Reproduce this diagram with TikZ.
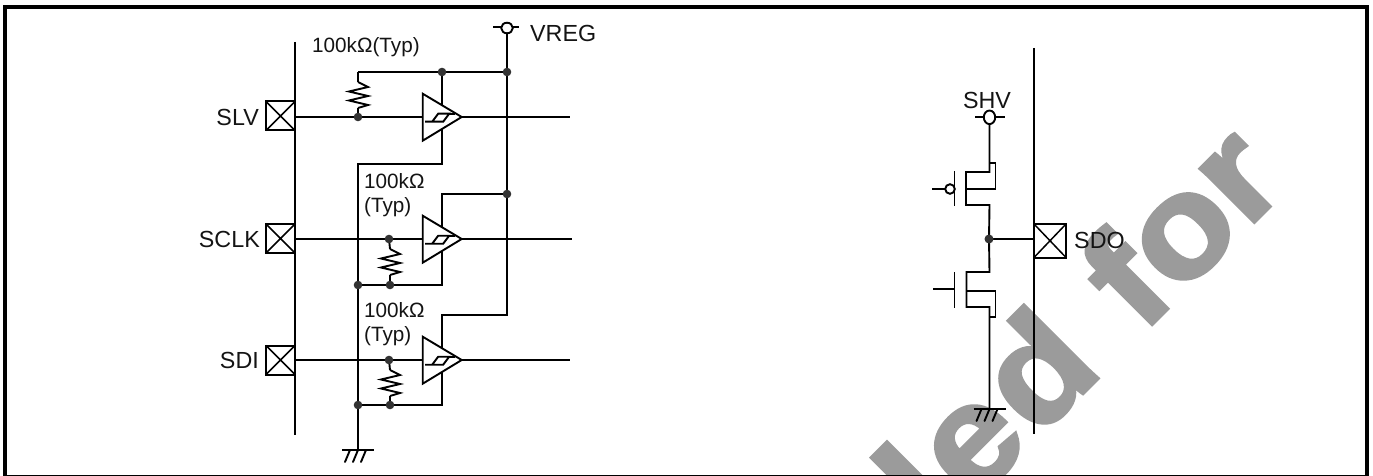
\documentclass[tikz,border=0pt]{standalone}
\usepackage{fontspec}
\setmainfont{Liberation Sans}
\newfontfamily\wmfont{Liberation Sans Bold}[FakeBold=2.7,FakeStretch=1.1]
\usetikzlibrary{calc}
\definecolor{wmgray}{HTML}{9B9B9B}
\definecolor{dotgray}{HTML}{333333}
\tikzset{
  wire/.style={draw=black,line width=1.9pt},
  lbl/.style={inner sep=0pt,font=\fontsize{23.3}{25}\selectfont,text=black!92},
  rlbl/.style={inner sep=0pt,font=\fontsize{20.7}{23}\selectfont,text=black!92},
  jdot/.style={fill=dotgray,draw=none},
  pics/comparator/.style={code={
    \draw[wire,fill=white,line join=miter] (-19.5,-23.3) -- (19.5,0) -- (-19.5,23.7) -- cycle;
    \draw[wire] (-17,4.7) -- (1,4.7) -- (7,-3.3) -- (-4,-3.3) -- (-10,4.7);
    \draw[wire] (7,-3.3) -- (13,-3.3);
  }},
  pics/padbox/.style={code={
    \draw[wire,line width=2pt] (-14.5,-14.5) rectangle (14.5,14.5);
    \draw[wire,line width=1.5pt] (-14.5,-14.5) -- (14.5,14.5) (-14.5,14.5) -- (14.5,-14.5);
  }},
  pics/zigzag/.style={code={
    \draw[wire,line join=miter] (0,0) -- (10,5) -- (-9,9.5) -- (10,14) -- (-9,18.5) -- (10,23) -- (0,26);
  }},
  pics/earth/.style={code={
    \draw[wire] (-16,0) -- (16,0);
    \draw[wire,line cap=round] (-8,0) -- (-13,12) (0,0) -- (-5,12) (8,0) -- (3,12);
  }},
}
\begin{document}
\begin{tikzpicture}[x=1pt,y=-1pt]
\useasboundingbox (0,0) rectangle (1373,476);
\fill[white] (0,0) rectangle (1373,476);
% watermark
\begin{scope}
\clip (0,0) rectangle (1373,476);
\node[anchor=base east,rotate=45,inner sep=0pt,text=wmgray,font=\wmfont\fontsize{143}{143}\selectfont] (wm) at (1290,186) {l\kern5pt e\kern5pt d\kern8pt\ for};
\end{scope}
\draw[line width=4pt,black] (5,7) rectangle (1367,477);

% ---------- left block ----------
\coordinate (busTL) at (295,42);
\coordinate (busBL) at (295,435);
\draw[wire] (busTL) -- (busBL);

\coordinate (slvY) at (295,117);
\coordinate (sclkY) at (295,239);
\coordinate (sdiY) at (295,360);
\coordinate (outA) at (570,117);
\coordinate (outB) at (572,239);
\coordinate (outC) at (570,360);
\draw[wire] (slvY) -- (outA);
\draw[wire] (sclkY) -- (outB);
\draw[wire] (sdiY) -- (outC);

% VREG rail
\coordinate (vreg) at (507,28);
\coordinate (vregL) at (493,27);
\coordinate (vregR) at (519,27);
\coordinate (railEnd) at (507,315);
\coordinate (cmpVc) at (442,315);
\coordinate (cmpVb) at (442,194);
\coordinate (rail2) at (507,194);
\coordinate (rail1) at (507,72);
\coordinate (cmpVa) at (442,72);
\coordinate (rTopA) at (358,72);
\coordinate (rMidA) at (358,117);
\draw[wire] (vregL) -- (vregR);
\draw[wire] (vreg) -- (rail1) -- (railEnd) -- (cmpVc) -- (442,405) -- (358,405);
\draw[wire] (rail2) -- (cmpVb) -- (442,285) -- (358,285);
\draw[wire] (rMidA) -- (358,108) (rTopA) -- (358,82);
\draw[wire] (rail1) -- (rTopA);
\draw[wire] (cmpVa) -- (442,164) -- (358,164) -- (358,450);
\draw[wire,fill=white] (vreg) ellipse [x radius=5.8pt,y radius=5.3pt];

% resistors
\coordinate (r2T) at (389,239);
\coordinate (r2B) at (390,285);
\coordinate (r3T) at (389,360);
\coordinate (r3B) at (390,405);
\draw[wire] (r2T) -- (390,249) (390,275) -- (r2B);
\draw[wire] (r3T) -- (390,370) (390,396) -- (r3B);
\pic at (358,82) {zigzag};
\pic at (390,249) {zigzag};
\pic at (390,370) {zigzag};

% comparators
\pic at (442.2,117) {comparator};
\pic at (442.2,239) {comparator};
\pic at (442.2,360) {comparator};

% ground left
\coordinate (gndL) at (358,450);
\pic at (gndL) {earth};

% pads left
\pic at (280.5,116) {padbox};
\pic at (280.5,238.5) {padbox};
\pic at (280.5,360) {padbox};

% junctions
\foreach \p in {rail1,cmpVa,rMidA,rail2,r2T,r2B,r3T,r3B}
  \fill[jdot] (\p) circle[radius=4.3pt];
\fill[jdot] (358,285) circle[radius=4.3pt];
\fill[jdot] (358,405) circle[radius=4.3pt];

% labels left
\node[lbl,anchor=base east] (tSLV) at (259,125) {SLV};
\node[lbl,anchor=base east] (tSCLK) at (260,247) {SCLK};
\node[lbl,anchor=base east] (tSDI) at (259,368) {SDI};
\node[lbl,anchor=base west] (tVREG) at (530,41.5) {VREG};
\node[rlbl,anchor=base west] (tRa) at (312,53) {100kΩ(Typ)};
\node[rlbl,anchor=base west] (tRb) at (364,188) {100kΩ};
\node[rlbl,anchor=base west] (tRbb) at (364,212) {(Typ)};
\node[rlbl,anchor=base west] (tRc) at (364,317) {100kΩ};
\node[rlbl,anchor=base west] (tRcc) at (364,341.5) {(Typ)};

% ---------- right block ----------
\coordinate (busTR) at (1034,48);
\coordinate (busBR) at (1034,434);
\draw[wire] (busTR) -- (busBR);

\coordinate (shv) at (989.5,117.3);
\coordinate (shvL) at (975,117);
\coordinate (shvR) at (1005,117);
\coordinate (outNode) at (989,239);
\coordinate (padW) at (1034,239);
\coordinate (gndR) at (989.5,409);
\draw[wire] (shvL) -- (shvR);
\draw[wire] (shv) -- (989.5,172) -- (966,172) -- (966,205) -- (989.5,205) -- (outNode);
\draw[wire] (989.5,163) -- (995.5,163) -- (995.5,189) -- (966,189);
\draw[wire] (954.5,171) -- (954.5,206);
\draw[wire] (932,189) -- (945,189);
\draw[wire] (950,189) circle[radius=4.8pt];
\draw[wire,fill=white] (shv) ellipse [x radius=5.7pt,y radius=6.8pt];
\draw[wire] (outNode) -- (989.5,272) -- (966.5,272) -- (966.5,307) -- (989.5,307) -- (gndR);
\draw[wire] (966.5,291) -- (995.5,291) -- (995.5,317) -- (989.5,317);
\draw[wire] (954.5,272) -- (954.5,308);
\draw[wire] (933,289) -- (954.5,289);
\draw[wire] (outNode) -- (padW);
\fill[jdot] (outNode) circle[radius=4.5pt];
\pic at (gndR) {earth};
\draw[wire,line width=2pt] (1034,224) rectangle (1066,257.5);
\draw[wire,line width=1.5pt] (1034,224) -- (1066,257.5) (1034,257.5) -- (1066,224);
\node[lbl,anchor=base] (tSHV) at (987,109) {SHV};
\node[lbl,anchor=base west] (tSDO) at (1074,248) {SDO};
\end{tikzpicture}
\end{document}
